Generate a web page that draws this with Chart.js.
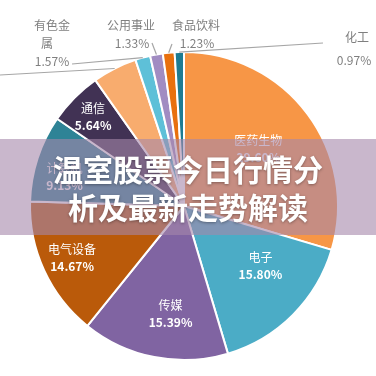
<!DOCTYPE html>
<html>
<head>
<meta charset="utf-8">
<script src="https://cdn.jsdelivr.net/npm/chart.js@4/dist/chart.umd.min.js"></script>
<style>
html,body{margin:0;padding:0;background:#fff;}
#wrap{width:376px;height:376px;position:relative;}
</style>
</head>
<body>
<div id="wrap"><canvas id="c" width="376" height="376"></canvas></div>
<script>
const categories = ['医药生物','电子','传媒','电气设备','计算机','通信','','有色金属','公用事业','食品饮料','化工'];
const shares = [29.60, 15.80, 15.39, 14.67, 9.13, 5.64, 4.67, 1.57, 1.33, 1.23, 0.97];
const shareLabels = ['29.60%','15.80%','15.39%','14.67%','9.13%','5.64%','','1.57%','1.33%','1.23%','0.97%'];
const sliceColors = ['#F79646','#4BACC6','#8064A2','#BA5A0A','#2E8396','#413254','#F8AC6E','#5EC0D8','#A18CC2','#E8700E','#1E7C92'];
const title = ['温室股票今日行情分','析及最新走势解读'];

// inside label layout: [slice index, radial fraction, angle offset (deg)]
const insideLayout = [[0,0.61,-1],[1,0.63,-7],[2,0.70,-4],[3,0.80,0],[4,0.80,-4],[5,0.83,0]];
// outside label layout
const outsideLayout = [
  {i:6, lines:[], lineFrom:[0,75]},
  {i:7, lines:[['有色金',52,25],['属',47,43],['1.57%',52,61]], lineFrom:[72,64]},
  {i:8, lines:[['公用事业',131,25],['1.33%',132,43]], lineFrom:[152,43]},
  {i:9, lines:[['食品饮料',196,25],['1.23%',197,43]], lineFrom:[172,44]},
  {i:10, lines:[['化工',357,37],['0.97%',354,60]], lineFrom:[323,43]}
];

const labelPlugin = {
  id:'labels',
  afterDraw(chart){
    const ctx = chart.ctx;
    const meta = chart.getDatasetMeta(0);
    ctx.save();
    ctx.fillStyle = '#fff';
    ctx.textAlign = 'center';
    ctx.textBaseline = 'middle';
    insideLayout.forEach(([i,f,off])=>{
      const a = meta.data[i];
      const p = a.getProps(['x','y','startAngle','endAngle','outerRadius']);
      const mid = (p.startAngle+p.endAngle)/2 + off*Math.PI/180;
      const r = p.outerRadius*f;
      const x = p.x + Math.cos(mid)*r, y = p.y + Math.sin(mid)*r;
      ctx.font = '12px "Noto Sans CJK SC"';
      ctx.fillText(categories[i], x, y-8);
      ctx.font = 'bold 12px "Noto Sans CJK SC", "DejaVu Sans"';
      ctx.fillText(shareLabels[i], x, y+9);
    });
    ctx.strokeStyle = '#A6A6A6';
    ctx.lineWidth = 1.2;
    ctx.fillStyle = '#7F7F7F';
    outsideLayout.forEach(o=>{
      const a = meta.data[o.i];
      const p = a.getProps(['x','y','startAngle','endAngle','outerRadius']);
      const mid = (p.startAngle+p.endAngle)/2;
      const ex = p.x + Math.cos(mid)*p.outerRadius, ey = p.y + Math.sin(mid)*p.outerRadius;
      ctx.beginPath();
      ctx.moveTo(o.lineFrom[0], o.lineFrom[1]);
      ctx.lineTo(ex, ey);
      ctx.stroke();
      o.lines.forEach(([t,x,y])=>{
        ctx.font = '12px "Noto Sans CJK SC", "DejaVu Sans"';
        ctx.fillText(t, x, y);
      });
    });
    ctx.fillStyle = 'rgba(165,135,170,0.6)';
    ctx.fillRect(0,139,376,96);
    ctx.font = 'bold 30px "Noto Sans CJK SC"';
    ctx.fillStyle = '#fff';
    ctx.shadowColor = 'rgba(0,0,0,0.35)';
    ctx.shadowBlur = 3;
    ctx.shadowOffsetY = 1;
    ctx.fillText(title[0], 188, 170);
    ctx.fillText(title[1], 188, 208);
    ctx.restore();
  }
};

new Chart(document.getElementById('c'), {
  type:'pie',
  data:{
    labels: categories,
    datasets:[{
      data: shares,
      backgroundColor: sliceColors,
      borderColor:'#fff',
      borderWidth:2
    }]
  },
  options:{
    responsive:false,
    animation:false,
    rotation:0,
    layout:{padding:{top:51,bottom:15,left:29,right:37}},
    plugins:{legend:{display:false},tooltip:{enabled:false}}
  },
  plugins:[{id:'bg',beforeDraw(c){c.ctx.save();c.ctx.fillStyle='#fff';c.ctx.fillRect(0,0,376,376);c.ctx.restore();}}, labelPlugin]
});
</script>
</body>
</html>
